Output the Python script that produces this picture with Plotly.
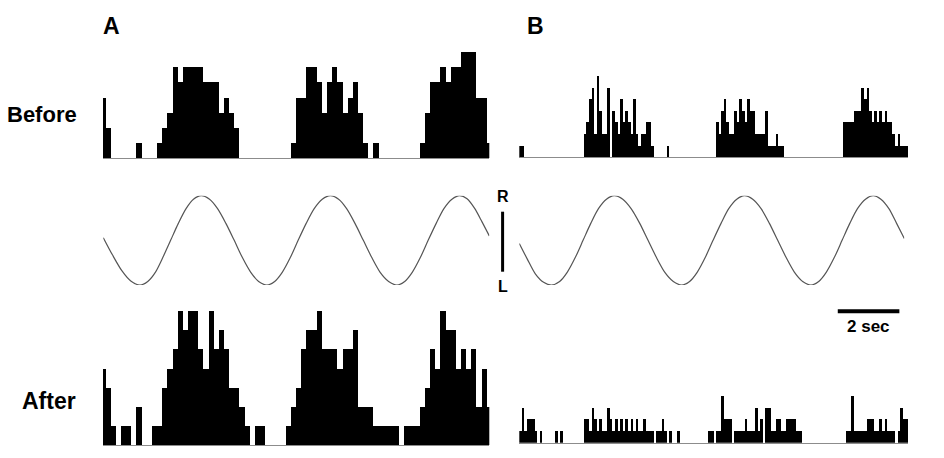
import plotly.graph_objects as go

W, H = 944, 458

# ---------------- data (spike counts per bin) ----------------
# Panel A: 76 bins (bin width 1/6 s), Panel B: 150 bins (bin width 1/12 s)
a_before = [4, 2, 0, 0, 0, 0, 0, 1, 0, 0,
            0, 1, 2, 3, 6, 5, 6, 6, 6, 6,
            5, 5, 5, 3, 4, 3, 2, 0, 0, 0,
            0, 0, 0, 0, 0, 0, 0, 1, 4, 4,
            6, 6, 5, 3, 5, 6, 5, 3, 4, 5,
            3, 1, 0, 1, 0, 0, 0, 0, 0, 0,
            0, 0, 1, 3, 5, 5, 6, 5, 6, 6,
            7, 7, 7, 4, 4, 1]
a_after = [4, 3, 1, 0, 1, 1, 0, 2, 0, 0,
           1, 1, 3, 4, 5, 7, 6, 7, 7, 5,
           4, 7, 5, 6, 5, 3, 3, 2, 1, 0,
           1, 1, 0, 0, 0, 0, 1, 2, 3, 5,
           6, 6, 7, 5, 5, 5, 4, 5, 5, 6,
           2, 2, 2, 1, 1, 1, 1, 1, 0, 1,
           1, 1, 2, 3, 5, 4, 7, 6, 6, 4,
           5, 4, 5, 2, 4, 2]
b_before = [1, 1, 0, 0, 0, 0, 0, 0, 0, 0,
            0, 0, 0, 0, 0, 0, 0, 0, 0, 0,
            0, 0, 0, 0, 0, 2, 3, 5, 6, 2,
            7, 4, 2, 2, 6, 0, 4, 3, 2, 5,
            3, 4, 3, 2, 5, 2, 1, 2, 2, 3,
            3, 1, 0, 0, 0, 0, 0, 1, 0, 0,
            0, 0, 0, 0, 0, 0, 0, 0, 0, 0,
            0, 0, 0, 0, 0, 0, 3, 2, 4, 5,
            3, 2, 2, 4, 3, 5, 4, 3, 5, 4,
            4, 2, 2, 2, 2, 4, 1, 1, 1, 2,
            1, 1, 0, 0, 0, 0, 0, 0, 0, 0,
            0, 0, 0, 0, 0, 0, 0, 0, 0, 0,
            0, 0, 0, 0, 0, 3, 3, 3, 3, 4,
            4, 4, 6, 5, 6, 4, 3, 4, 3, 4,
            3, 4, 3, 3, 2, 1, 2, 1, 1, 1]
b_after = [1, 3, 1, 2, 2, 2, 1, 0, 1, 0,
           0, 0, 0, 0, 1, 0, 1, 0, 0, 0,
           0, 0, 0, 0, 0, 2, 2, 1, 3, 2,
           1, 2, 1, 1, 3, 2, 1, 2, 1, 2,
           1, 2, 1, 2, 1, 2, 1, 1, 2, 1,
           1, 1, 0, 1, 1, 2, 1, 0, 1, 0,
           0, 1, 0, 0, 0, 0, 0, 0, 0, 0,
           0, 0, 0, 1, 1, 0, 1, 1, 4, 2,
           2, 2, 0, 1, 1, 1, 1, 2, 1, 1,
           1, 3, 1, 2, 0, 3, 3, 1, 1, 2,
           2, 1, 1, 2, 2, 2, 2, 1, 1, 0,
           0, 0, 0, 0, 0, 0, 0, 0, 0, 0,
           0, 0, 0, 0, 0, 0, 1, 1, 4, 1,
           1, 1, 1, 1, 2, 2, 2, 1, 1, 2,
           1, 2, 1, 1, 1, 0, 1, 3, 2, 2]

# stimulus position trace (seconds, R = +1, L = -1), samples
sine_a_t = [0.0, 0.30, 0.60, 0.89, 1.19, 1.44, 1.69, 1.93, 2.18, 2.43, 2.68, 2.92, 3.17,
            3.44, 3.70, 3.97, 4.24, 4.50, 4.77, 5.03, 5.30, 5.55, 5.80, 6.06, 6.31,
            6.57, 6.83, 7.09, 7.35, 7.62, 7.88, 8.15, 8.42, 8.69, 8.96, 9.24, 9.51,
            9.76, 10.01, 10.27, 10.52, 10.78, 11.03, 11.29, 11.54, 11.78, 12.02, 12.26, 12.5]
sine_a_v = [0.06, -0.33, -0.68, -0.91, -1.0, -0.92, -0.71, -0.38, 0.0, 0.38, 0.71, 0.92, 1.0,
            0.92, 0.71, 0.38, 0.0, -0.38, -0.71, -0.92, -1.0, -0.92, -0.71, -0.38, 0.0,
            0.38, 0.71, 0.92, 1.0, 0.92, 0.71, 0.38, 0.0, -0.38, -0.71, -0.92, -1.0,
            -0.92, -0.71, -0.38, 0.0, 0.38, 0.71, 0.92, 1.0, 0.93, 0.72, 0.42, 0.1]
sine_b_t = [0.0, 0.26, 0.52, 0.79, 1.05, 1.31, 1.56, 1.82, 2.07, 2.32, 2.57, 2.83, 3.08,
            3.36, 3.63, 3.91, 4.18, 4.45, 4.72, 5.00, 5.27, 5.53, 5.78, 6.04, 6.29,
            6.55, 6.80, 7.06, 7.31, 7.58, 7.85, 8.12, 8.39, 8.66, 8.93, 9.20, 9.47,
            9.72, 9.97, 10.23, 10.48, 10.73, 10.98, 11.24, 11.49, 11.74, 12.0, 12.25, 12.5]
sine_b_v = [-0.07, -0.42, -0.75, -0.94, -1.0, -0.92, -0.71, -0.38, 0.0, 0.38, 0.71, 0.92, 1.0,
            0.92, 0.71, 0.38, 0.0, -0.38, -0.71, -0.92, -1.0, -0.92, -0.71, -0.38, 0.0,
            0.38, 0.71, 0.92, 1.0, 0.92, 0.71, 0.38, 0.0, -0.38, -0.71, -0.92, -1.0,
            -0.92, -0.71, -0.38, 0.0, 0.38, 0.71, 0.92, 1.0, 0.92, 0.71, 0.38, 0.04]

panel_labels = ["A", "B"]
row_labels = ["Before", "After"]
stim_labels = ["R", "L"]
scale_bar_sec = 2
scale_bar_end_sec = 12.34
scale_label = "2 sec"

# ---------------- layout helpers ----------------
def dx(x0, x1):
    return [x0 / W, x1 / W]

def dy(top, bottom):
    return [1 - bottom / H, 1 - top / H]

FONT = "Liberation Sans, Arial, sans-serif"

fig = go.Figure()

bar_style = dict(marker=dict(color="black", line=dict(width=0)), width=1, showlegend=False,
                 hoverinfo="skip")
sine_line = dict(color="#555555", width=1.2, shape="spline", smoothing=0.8)

fig.add_trace(go.Bar(x=list(range(len(a_before))), y=a_before, xaxis="x", yaxis="y", **bar_style))
fig.add_trace(go.Bar(x=[k + 0.5 for k in range(len(b_before))], y=b_before, xaxis="x2", yaxis="y2", **bar_style))
fig.add_trace(go.Scatter(x=sine_a_t, y=sine_a_v, mode="lines", line=sine_line,
                         xaxis="x3", yaxis="y3", showlegend=False, hoverinfo="skip"))
fig.add_trace(go.Scatter(x=sine_b_t, y=sine_b_v, mode="lines", line=sine_line,
                         xaxis="x4", yaxis="y4", showlegend=False, hoverinfo="skip"))
fig.add_trace(go.Bar(x=list(range(len(a_after))), y=a_after, xaxis="x5", yaxis="y5", **bar_style))
fig.add_trace(go.Bar(x=[k + 0.5 for k in range(len(b_after))], y=b_after, xaxis="x6", yaxis="y6", **bar_style))

hist_x = dict(showline=True, linecolor="#8c8c8c", linewidth=1, showticklabels=False, ticks="",
              showgrid=False, zeroline=False, fixedrange=True)
hid = dict(visible=False, showgrid=False, zeroline=False, fixedrange=True)

A_X = dx(103.0, 489.3)
B_X = dx(519.3, 908.3)

fig.update_layout(
    width=W, height=H, margin=dict(l=0, r=0, t=0, b=0),
    paper_bgcolor="white", plot_bgcolor="white", bargap=0, barmode="overlay",
    xaxis=dict(domain=A_X, range=[0, 75], **hist_x),
    yaxis=dict(domain=dy(52.0, 158.3), range=[0, 7], anchor="x", **hid),
    xaxis2=dict(domain=B_X, range=[0, 150], anchor="y2", **hist_x),
    yaxis2=dict(domain=dy(76.0, 157.3), range=[0, 7], anchor="x2", **hid),
    xaxis3=dict(domain=dx(103.3, 489.3), range=[0, 12.5], anchor="y3", **hid),
    yaxis3=dict(domain=dy(195.7, 285.0), range=[-1, 1], anchor="x3", **hid),
    xaxis4=dict(domain=dx(519.3, 904.3), range=[0, 12.5], anchor="y4", **hid),
    yaxis4=dict(domain=dy(195.7, 285.0), range=[-1, 1], anchor="x4", **hid),
    xaxis5=dict(domain=A_X, range=[0, 75], anchor="y5", **hist_x),
    yaxis5=dict(domain=dy(310.7, 445.0), range=[0, 7], anchor="x5", **hid),
    xaxis6=dict(domain=B_X, range=[0, 150], anchor="y6", **hist_x),
    yaxis6=dict(domain=dy(396.0, 442.7), range=[0, 4], anchor="x6", **hid),
)

def txt(x, y, s, size, xref="paper"):
    return dict(x=x, y=y, xref=xref, yref="paper", text=s, showarrow=False,
                xanchor="center", yanchor="middle",
                font=dict(family=FONT, size=size, color="black", weight="bold"))

ann = [
    txt(111 / W, 1 - 25.7 / H, panel_labels[0], 23),
    txt(535 / W, 1 - 25.7 / H, panel_labels[1], 23),
    txt(42 / W, 1 - 114 / H, row_labels[0], 22),
    txt(49 / W, 1 - 401 / H, row_labels[1], 23),
    txt(502.6 / W, 1 - 196.7 / H, stim_labels[0], 16),
    txt(502.6 / W, 1 - 286.7 / H, stim_labels[1], 16),
    txt(scale_bar_end_sec - scale_bar_sec / 2, 1 - 326.3 / H, scale_label, 17, xref="x4"),
]
fig.update_layout(annotations=ann)

fig.update_layout(shapes=[
    dict(type="line", xref="x4", yref="paper",
         x0=scale_bar_end_sec - scale_bar_sec, x1=scale_bar_end_sec,
         y0=1 - 311.3 / H, y1=1 - 311.3 / H, line=dict(color="black", width=4)),
    dict(type="line", xref="paper", yref="paper",
         x0=502.6 / W, x1=502.6 / W, y0=1 - 211.7 / H, y1=1 - 271.7 / H,
         line=dict(color="black", width=3)),
])

fig.write_html("out.html", config={"displayModeBar": False})
